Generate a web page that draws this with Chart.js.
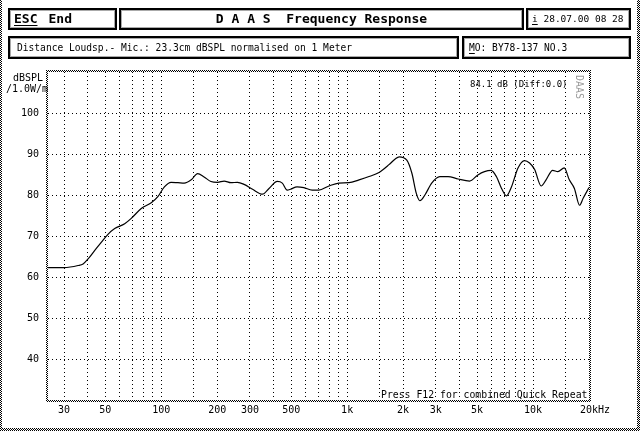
<!DOCTYPE html>
<html>
<head>
<meta charset="utf-8">
<script src="https://cdn.jsdelivr.net/npm/chart.js@4/dist/chart.umd.min.js"></script>
<style>
  body { margin: 0; background: #fff; }
  #page { position: relative; width: 640px; height: 431px; overflow: hidden; font-family: "DejaVu Sans Mono", monospace; color: #000; }
  #chart { position: absolute; left: 0; top: 0; }
  .box { position: absolute; border: 2px solid #000; box-sizing: border-box; box-shadow: inset 0 0 0 1px #aaa; white-space: pre; }
  .txt { position: absolute; white-space: pre; line-height: 1; }
  u { text-decoration: underline; text-underline-offset: 2px; }
</style>
</head>
<body>
<div id="page">
  <canvas id="chart" width="640" height="431"></canvas>

  <div class="box" style="left:8px;top:8px;width:109px;height:22px;font:bold 13px 'DejaVu Sans Mono';line-height:18px;padding-left:4px"><u>ESC</u><span style="margin-left:11px">End</span></div>
  <div class="box" style="left:119px;top:8px;width:405px;height:22px;font:bold 13px 'DejaVu Sans Mono';line-height:18px;text-align:center">D A A S  Frequency Response</div>
  <div class="box" style="left:526px;top:8px;width:105px;height:22px;font:9.5px 'DejaVu Sans Mono';line-height:18px;padding-left:4px"><u>i</u> 28.07.00 08 28</div>
  <div class="box" style="left:8px;top:36px;width:451px;height:23px;font:9.6px 'DejaVu Sans Mono';line-height:19px;padding-left:7px">Distance Loudsp.- Mic.: 23.3cm dBSPL normalised on 1 Meter</div>
  <div class="box" style="left:462px;top:36px;width:169px;height:23px;font:9.6px 'DejaVu Sans Mono';line-height:19px;padding-left:5px"><u>M</u>O: BY78-137 NO.3</div>

  <div class="txt" style="left:13px;top:73px;font-size:10px">dBSPL</div>
  <div class="txt" style="left:6px;top:84px;font-size:10px">/1.0W/m</div>
  <div class="txt" style="left:470px;top:80px;font-size:9px">84.1 dB (Diff:0.0)</div>
  <div class="txt" style="left:381px;top:390px;font-size:9.8px">Press F12 for combined Quick Repeat</div>
  <div class="txt" style="left:574px;top:75px;font-size:10px;color:#999;writing-mode:vertical-rl">DAAS</div>
</div>

<script>
const freqs = [24.6, 30, 35.7, 38, 40.4, 43.9, 47.7, 51.7, 56.2, 63.6, 69, 78.1, 88.4, 95.9,
  104, 113, 123, 133, 145, 157, 170, 185, 201, 218, 237, 257, 279, 310, 350, 380, 421, 448,
  476, 496, 538, 585, 648, 704, 798, 903, 1024, 1159, 1311, 1484, 1679, 1815, 1906, 2094,
  2230, 2356, 2462, 2620, 2850, 3150, 3490, 3950, 4560, 5050, 5480, 5950, 6350, 6770, 7200,
  7660, 8300, 9000, 9580, 10200, 11060, 11750, 12750, 13600, 14720, 15670, 16690, 17790,
  18600, 20000];
const spl = [62.3, 62.3, 62.8, 63.2, 64.4, 66.5, 68.5, 70.4, 71.8, 73.0, 74.3, 76.7, 78.1, 79.6,
  82.0, 83.1, 83.0, 82.9, 83.7, 85.2, 84.4, 83.3, 83.1, 83.4, 83.0, 83.1, 82.6, 81.4, 80.2, 81.6,
  83.3, 82.9, 81.2, 81.4, 82.0, 81.8, 81.2, 81.2, 82.2, 82.9, 83.0, 83.7, 84.5, 85.5, 87.4, 88.8,
  89.3, 88.5, 85.3, 80.4, 78.6, 80.0, 82.9, 84.5, 84.5, 83.9, 83.4, 84.9, 85.7, 86.0, 84.5, 81.6,
  79.8, 82.0, 86.6, 88.4, 87.8, 86.2, 82.2, 83.7, 86.0, 85.7, 86.6, 83.7, 81.6, 77.5, 79.2, 81.8];

// axis ticks
const gridFreqs = [30, 40, 50, 60, 70, 80, 90, 100, 150, 200, 300, 400, 500, 600, 700, 800, 900,
  1000, 1500, 2000, 3000, 4000, 5000, 6000, 7000, 8000, 9000, 10000, 15000, 20000];
const labelFreqs = [30, 50, 100, 200, 300, 500, 1000, 2000, 3000, 5000, 10000, 20000];
const labelTexts = ['30', '50', '100', '200', '300', '500', '1k', '2k', '3k', '5k', '10k', '  20kHz'];
const dbTicks = [40, 50, 60, 70, 80, 90, 100];

function checker() {
  const c = document.createElement('canvas');
  c.width = 2; c.height = 2;
  const g = c.getContext('2d');
  g.fillStyle = '#fff'; g.fillRect(0, 0, 2, 2);
  g.fillStyle = '#000'; g.fillRect(0, 0, 1, 1); g.fillRect(1, 1, 1, 1);
  return c;
}

const framePlugin = {
  id: 'frame',
  beforeDraw(chart) {
    const ctx = chart.ctx;
    const pat = ctx.createPattern(checker(), 'repeat');
    ctx.save();
    ctx.fillStyle = pat;
    ctx.fillRect(0, 0, 2, 431);
    ctx.fillRect(637, 0, 3, 431);
    ctx.fillRect(0, 428, 640, 3);
    ctx.restore();
  },
  afterDraw(chart) {
    const { left, right, top, bottom } = chart.chartArea;
    const ctx = chart.ctx;
    ctx.save();
    ctx.fillStyle = ctx.createPattern(checker(), 'repeat');
    ctx.fillRect(left - 2, top - 2, right - left + 4, 2);
    ctx.fillRect(left - 2, bottom, right - left + 4, 2);
    ctx.fillRect(left - 2, top - 2, 2, bottom - top + 4);
    ctx.fillRect(right, top - 2, 2, bottom - top + 4);
    ctx.restore();
  }
};

const font = { family: 'DejaVu Sans Mono', size: 10 };

new Chart(document.getElementById('chart'), {
  type: 'line',
  data: {
    datasets: [{
      data: freqs.map((f, i) => ({ x: f, y: spl[i] })),
      borderColor: '#000',
      borderWidth: 1.2,
      pointRadius: 0,
      fill: false,
      cubicInterpolationMode: 'monotone'
    }]
  },
  options: {
    responsive: false,
    animation: false,
    layout: { padding: { left: 0, right: 51, top: 72, bottom: 11 } },
    plugins: { legend: { display: false }, tooltip: { enabled: false } },
    scales: {
      x: {
        type: 'logarithmic',
        min: 24.6,
        max: 20000,
        afterBuildTicks: (scale) => { scale.ticks = gridFreqs.map((v) => ({ value: v })); },
        afterFit: (scale) => { scale.height = 20; },
        grid: {
          drawTicks: false,
          lineWidth: 1,
          color: (c) => (c.tick && c.tick.value === 20000 ? 'rgba(0,0,0,0)' : '#000')
        },
        border: { display: false, dash: [1, 3] },
        ticks: {
          autoSkip: false,
          maxRotation: 0,
          padding: 4,
          color: '#000',
          font: font,
          callback: (v) => {
            const i = labelFreqs.indexOf(v);
            return i < 0 ? '' : labelTexts[i];
          }
        }
      },
      y: {
        min: 30,
        max: 110,
        afterBuildTicks: (scale) => { scale.ticks = dbTicks.map((v) => ({ value: v })); },
        afterFit: (scale) => { scale.width = 48; },
        grid: { drawTicks: false, lineWidth: 1, color: '#000' },
        border: { display: false, dash: [1, 3] },
        ticks: { padding: 9, color: '#000', font: font }
      }
    }
  },
  plugins: [framePlugin]
});
</script>
</body>
</html>
